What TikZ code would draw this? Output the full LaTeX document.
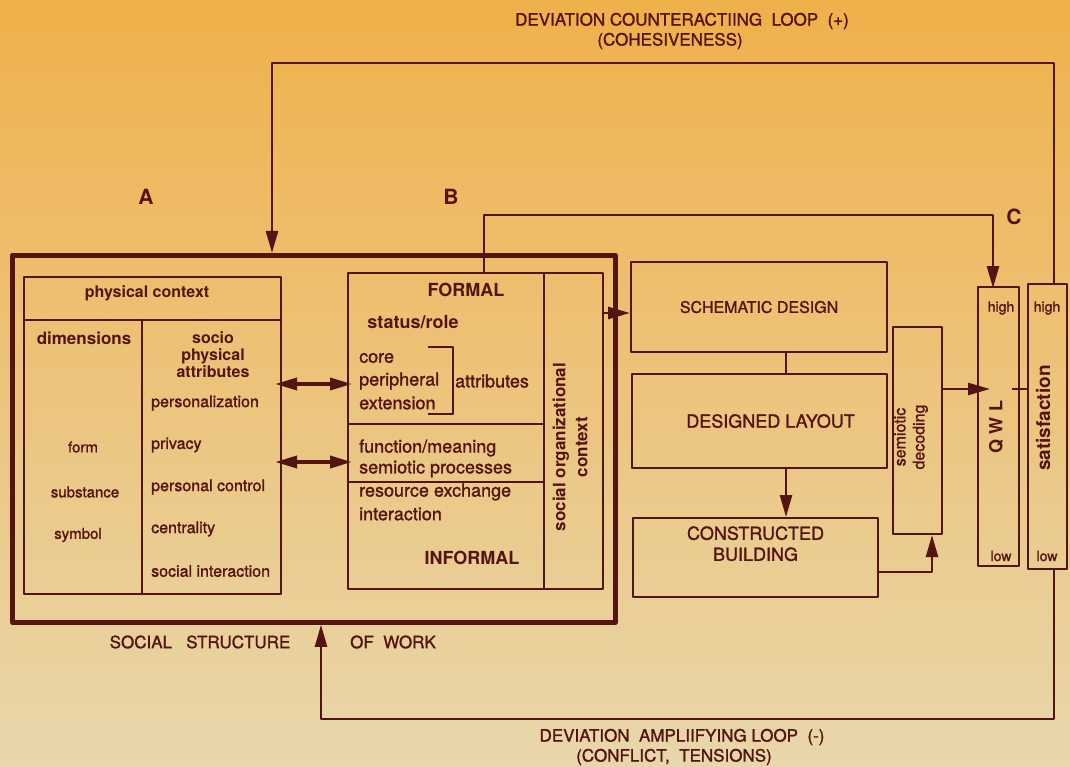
\documentclass[tikz,border=0pt]{standalone}
\usepackage{fontspec}
\setmainfont{TeX Gyre Heros}
\newfontfamily\medfont{TeX Gyre Heros}[AutoFakeBold=1.3]
\usetikzlibrary{arrows.meta}
\definecolor{ink}{RGB}{84,20,18}
\definecolor{bgtop}{RGB}{240,176,74}
\definecolor{bgmid}{RGB}{238,198,128}
\definecolor{bgbot}{RGB}{232,215,172}
\newcommand{\fs}[1]{\fontsize{#1}{#1}\selectfont}
\begin{document}
\begin{tikzpicture}[x=1pt, y=-1pt, line join=round, >={Triangle[length=22pt,width=12pt]},
	box/.style={draw=ink, line width=2.1pt, inner sep=0pt, anchor=north west},
	lbl/.style={text=ink, inner sep=0pt, font=\fs{16}\medfont\bfseries},
	lblb/.style={text=ink, inner sep=0pt, font=\fs{16}\bfseries},
	link/.style={draw=ink, line width=2.5pt}]
	% background
	\shade[top color=bgtop, middle color=bgmid, bottom color=bgbot] (0,0) rectangle (1070,767);
	\useasboundingbox (0,0) rectangle (1070,767);
	% titles
	\node[lbl, font=\fs{17}\medfont\bfseries, align=center] (tloop) at (682,31) {DEVIATION COUNTERACTIING\ \ LOOP\ \ (+)\\[3pt]\hspace*{-24pt}(COHESIVENESS)};
	\node[lbl, font=\fs{17}\medfont\bfseries, align=center] (bloop) at (682,747) {DEVIATION\ \ AMPLIIFYING LOOP\ \ (-)\\[3pt]\hspace*{-16pt}(CONFLICT,\ \ TENSIONS)};
	\node[lblb, font=\fs{21}\bfseries] (la) at (146,197) {A};
	\node[lblb, font=\fs{21}\bfseries] (lb) at (451,197) {B};
	\node[lblb, font=\fs{21}\bfseries] (lc) at (1014,217) {C};
	% social structure of work
	\node[box, line width=4.8pt, minimum width=603pt, minimum height=367pt] (sow) at (10,253) {};
	\node[lbl, font=\fs{17}\medfont\bfseries] (sowa) at (200,642) {SOCIAL\ \ \ STRUCTURE};
	\node[lbl, font=\fs{17}\medfont\bfseries] (sowb) at (393,642) {OF\ \ WORK};
	% A: physical context
	\node[box, minimum width=257pt, minimum height=317pt] (pc) at (23,276) {};
	\draw[ink, line width=2.1pt] (23,320) -- (280,320) (142,320) -- (142,593);
	\node[lblb] (pct) at (147,293) {physical context};
	\node[lblb, font=\fs{17}\bfseries] (dim) at (84,338) {dimensions};
	\node[lblb, align=center] (spa) at (213,355) {socio\\[1pt]physical\\[1pt]attributes};
	\foreach \t/\x/\y [count=\i] in {form/83/447, substance/85/492, symbol/78/535}
		\node[lbl, font=\fs{15}\medfont\bfseries] (dm\i) at (\x,\y) {\t};
	\foreach \t/\y [count=\i] in {personalization/403, privacy/445, personal control/487, centrality/529, social interaction/571}
		\node[lbl, anchor=west] (sp\i) at (151,\y) {\t};
	% B: social organizational context
	\node[box, minimum width=255pt, minimum height=316pt] (soc) at (347,272) {};
	\draw[ink, line width=2.1pt] (544,272) -- (544,588) (347,424) -- (544,424) (347,482) -- (544,482);
	\node[lblb, font=\fs{18}\bfseries] (formal) at (466,290) {FORMAL};
	\node[lblb, font=\fs{18}\bfseries] (status) at (413,322) {status/role};
	\foreach \t/\y [count=\i] in {core/358, peripheral/381, extension/403, {function/meaning}/448, semiotic processes/469, resource exchange/492, interaction/514}
		\node[lbl, font=\fs{18}\medfont\bfseries, anchor=west] (bt\i) at (359,\y) {\t};
	\draw[ink, line width=2.1pt] (428,347) -- (453,347) -- (453,414) -- (428,414);
	\node[lbl, font=\fs{18}\medfont\bfseries] (attr) at (492,381) {attributes};
	\node[lblb, font=\fs{18}\bfseries] (informal) at (472,558) {INFORMAL};
	\node[lblb, font=\fs{17}\bfseries, rotate=90, align=center] (soct) at (570,447) {social organizational\\[5pt]context};
	% C: building process
	\node[box, minimum width=256pt, minimum height=90pt, font=\fs{16}\medfont\bfseries, text=ink] (sd) at (630,261) {SCHEMATIC DESIGN};
	\node[box, minimum width=255pt, minimum height=94pt, font=\fs{18}\medfont\bfseries, text=ink] (dl) at (631,373) {\hspace*{22pt}DESIGNED LAYOUT};
	\node[box, minimum width=245pt, minimum height=79pt, font=\fs{18}\medfont\bfseries, text=ink, align=center] (cb) at (632,517) {CONSTRUCTED\\[3pt]BUILDING\\[10pt]};
	\node[box, minimum width=49pt, minimum height=207pt] (dec) at (892,326) {};
	\node[lbl, font=\fs{16}\medfont\bfseries, rotate=90, align=center] (dect) at (911,437) {semiotic\\[3pt]decoding};
	\node[box, minimum width=41pt, minimum height=279pt] (qwl) at (977,286) {};
	\node[box, minimum width=39pt, minimum height=285pt] (sat) at (1027,283) {};
	\node[lblb, font=\fs{18}\bfseries, rotate=90] (qwlt) at (996,427) {Q W L};
	\node[lblb, font=\fs{19}\bfseries, rotate=90] (satt) at (1043,418) {satisfaction};
	\foreach \n/\x in {qwl/1001, sat/1047} {
		\node[lbl, font=\fs{14}\medfont\bfseries] (\n hi) at (\x,308) {high};
		\node[lbl, font=\fs{14}\medfont\bfseries] (\n lo) at (\x,556) {low};
	}
	% connectors
	\draw[link, line width=3.6pt, <->, shorten <=-7pt, shorten >=-5pt] (pc.east |- 0,384) -- (soc.west |- 0,384);
	\draw[link, line width=3.6pt, <->, shorten <=-7pt, shorten >=-5pt] (pc.east |- 0,462) -- (soc.west |- 0,462);
	\draw[link, ->] (soc.east |- 0,313) -- (sd.west |- 0,313);
	\draw[link, line width=2.1pt] (sd.south -| 786,0) -- (dl.north -| 786,0);
	\draw[link, ->] (dl.south -| 786,0) -- (cb.north -| 786,0);
	\draw[link, ->] (cb.east |- 0,572) -| (dec.south -| 932,0);
	\draw[link, ->, shorten >=-13pt] (dec.east |- 0,389) -- (qwl.west |- 0,389);
	\draw[link, line width=1.6pt] (1012,389) -- (sat.west |- 0,389);
	% feedback loops
	\draw[link, ->] (sat.north -| 1054,0) |- (272,63) -- (sow.north -| 272,0);
	\draw[link, ->, shorten >=-2pt] (soc.north -| 484,0) |- (993,215) -- (qwl.north -| 993,0);
	\draw[link, ->] (sat.south -| 1054,0) |- (321,719) -- (sow.south -| 321,0);
\end{tikzpicture}
\end{document}
